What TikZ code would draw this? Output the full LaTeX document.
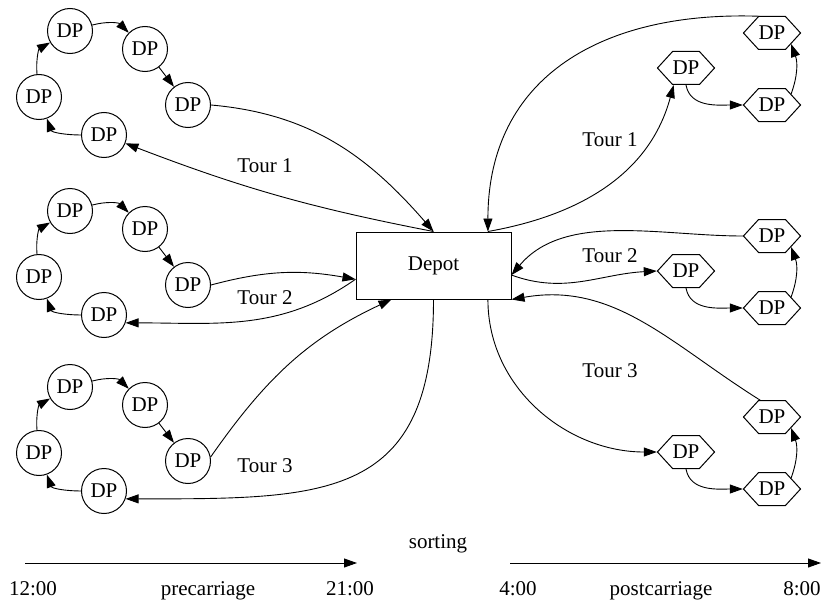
\documentclass[tikz,border=0pt]{standalone}
\usepackage{fontspec}
\setmainfont{Liberation Serif}
\usetikzlibrary{arrows.meta,shapes.symbols}
\begin{document}
\begin{tikzpicture}[x=1pt,y=1pt,
  every node/.style={font=\fontsize{21}{25}\selectfont},
  dp/.style={circle,draw,line width=1pt,minimum size=45pt,inner sep=0pt},
  hx/.style={signal,signal to=east and west,signal pointer angle=95,draw,line width=1pt,minimum height=33pt,inner xsep=0pt,inner ysep=0pt},
  depotbox/.style={rectangle,draw,line width=1pt,minimum width=155pt,minimum height=67pt},
  arr/.style={line width=0.9pt,-{Triangle[length=13pt,width=9pt]}},
  lbl/.style={anchor=base,inner sep=0pt}]
\useasboundingbox (0,0) rectangle (822,-602);

% depot
\node[depotbox] (depot) at (433.5,-265.5) {Depot};

% left clusters (precarriage)
\foreach \k/\dy in {1/0,2/180,3/356} {
  \node[dp] (a1-\k) at (70,-31-\dy) {DP};
  \node[dp] (a2-\k) at (145,-49-\dy) {DP};
  \node[dp] (a3-\k) at (188,-105-\dy) {DP};
  \node[dp] (a4-\k) at (104,-135-\dy) {DP};
  \node[dp] (a5-\k) at (39,-97-\dy) {DP};
  \draw[arr] (a5-\k) to[out=95,in=210] (a1-\k);
  \draw[arr] (a1-\k) to[out=15,in=135] (a2-\k);
  \draw[arr] (a2-\k) -- (a3-\k);
  \draw[arr] (a4-\k) to[out=180,in=290] (a5-\k);
}

% right clusters (postcarriage)
\foreach \k/\dy in {1/0,2/203,3/384} {
  \node[hx] (b1-\k) at (772,-33-\dy) {DP};
  \node[hx] (b2-\k) at (686,-68-\dy) {DP};
  \node[hx] (b3-\k) at (772,-105-\dy) {DP};
  \draw[arr] (b2-\k.south) to[out=-80,in=180] (b3-\k.west);
  \draw[arr] (b3-\k.30) to[bend right=20] (b1-\k.-30);
}

% precarriage tours
\draw[arr] (a3-1.east) to[out=-5,in=131] (depot.north);
\draw[arr] (depot.north) to[bend left=5] (a4-1);
\draw[arr] (a3-2.east) to[out=15,in=170] (depot.190);
\draw[arr] (depot.190) to[out=215,in=0] (a4-2.-20);
\draw[arr] (a3-3.10) to[out=55,in=205] (depot.219);
\draw[arr] (depot.south) to[out=-90,in=0,looseness=1.4] (a4-3.-20);

% postcarriage tours
\draw[arr] (depot.32) to[out=10,in=255] (b2-1.234);
\draw[arr] (b1-1.127) to[out=178,in=90,looseness=1.15] (depot.32);
\draw[arr] (depot.-7) to[out=-20,in=183] (b2-2.west);
\draw[arr] (b1-2.west) to[out=180,in=50,looseness=0.9] (depot.-7);
\draw[arr] (depot.-32) to[out=-90,in=180] (b2-3.west);
\draw[arr] (b1-3.125) to[out=148,in=10] (depot.south east);

% tour labels
\node[lbl] (t1l) at (265,-172) {Tour 1};
\node[lbl] (t2l) at (265,-304) {Tour 2};
\node[lbl] (t3l) at (265,-472) {Tour 3};
\node[lbl] (t1r) at (610,-146) {Tour 1};
\node[lbl] (t2r) at (610,-262) {Tour 2};
\node[lbl] (t3r) at (610,-377) {Tour 3};

% time axis
\node[lbl] (sorting) at (438,-548) {sorting};
\coordinate (ax1s) at (25,-563);
\coordinate (ax1e) at (357,-563);
\coordinate (ax2s) at (510,-563);
\coordinate (ax2e) at (821,-563);
\draw[arr] (ax1s) -- (ax1e);
\draw[arr] (ax2s) -- (ax2e);
\node[lbl] (t12) at (33,-595) {12:00};
\node[lbl] (pre) at (208,-595) {precarriage};
\node[lbl] (t21) at (350,-595) {21:00};
\node[lbl] (t4) at (518,-595) {4:00};
\node[lbl] (post) at (661,-595) {postcarriage};
\node[lbl] (t8) at (802,-595) {8:00};
\end{tikzpicture}
\end{document}
